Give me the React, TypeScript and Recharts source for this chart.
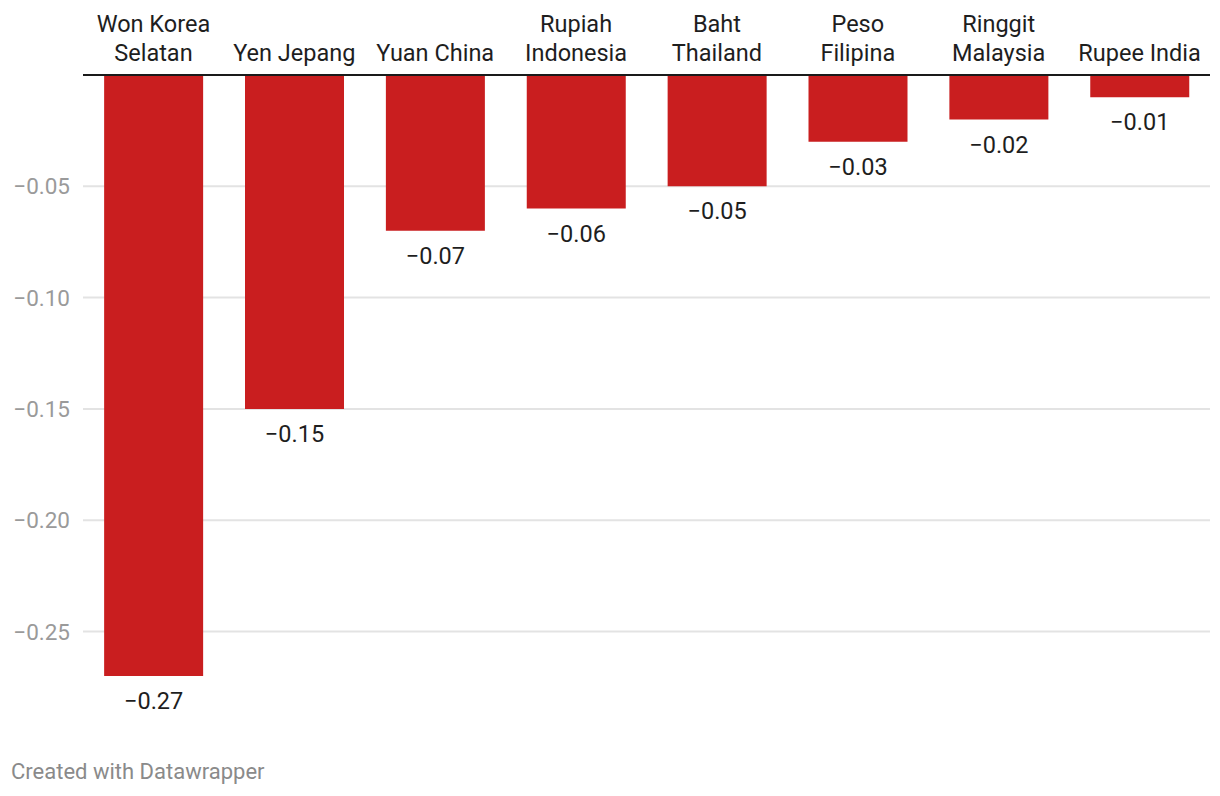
import React from 'react';
import { BarChart, Bar, XAxis, YAxis, CartesianGrid, ReferenceLine, LabelList } from 'recharts';

const categories = ['Won Korea\nSelatan', 'Yen Jepang', 'Yuan China', 'Rupiah\nIndonesia', 'Baht\nThailand', 'Peso\nFilipina', 'Ringgit\nMalaysia', 'Rupee India'];
const values = [-0.27, -0.15, -0.07, -0.06, -0.05, -0.03, -0.02, -0.01];
const yTicks = [-0.25, -0.2, -0.15, -0.1, -0.05, 0];
const gridValues = [-0.25, -0.2, -0.15, -0.1, -0.05];

const data = categories.map((c, i) => ({ name: c, value: values[i] }));

const FONT = 'Roboto, "Noto Sans", sans-serif';
const fmt = (v: number) => (v < 0 ? '\u2212' : '') + Math.abs(v).toFixed(2);

const XTick = (props: any) => {
  const { x, y, payload } = props;
  const lines = String(payload.value).split('\n');
  const n = lines.length;
  return (
    <g>
      {lines.map((l: string, i: number) => (
        <text key={i} x={x} y={y - 14.5 - (n - 1 - i) * 28.7} textAnchor="middle" fill="#1e1e1e" fontSize={23.5} fontFamily={FONT}>
          {l}
        </text>
      ))}
    </g>
  );
};

const YTick = (props: any) => {
  const { x, y, payload } = props;
  if (payload.value === 0) return null;
  return (
    <text x={x} y={y} dy="0.36em" textAnchor="end" fill="#9a9a9a" fontSize={22.5} fontFamily={FONT}>
      {fmt(payload.value)}
    </text>
  );
};

const ValueLabel = (props: any) => {
  const { x, y, width, height, value } = props;
  const bottom = Math.max(y, y + height);
  return (
    <text x={x + width / 2} y={bottom + 33} textAnchor="middle" fill="#1e1e1e" fontSize={23.5} fontFamily={FONT}>
      {fmt(value)}
    </text>
  );
};

export default function App() {
  return (
    <div style={{ position: 'absolute', left: 0, top: 0, width: 1220, height: 796, background: '#fff' }}>
      <BarChart width={1220} height={796} data={data} margin={{ top: 0, right: 10, bottom: 120, left: 0 }} barCategoryGap="15%">
        <CartesianGrid vertical={false} stroke="#e3e3e3" strokeWidth={2} horizontalValues={gridValues} />
        <XAxis dataKey="name" orientation="top" height={75} axisLine={false} tickLine={false} tickSize={0} tickMargin={0} interval={0} tick={<XTick />} />
        <YAxis type="number" domain={[-0.27, 0]} ticks={yTicks} width={83} axisLine={false} tickLine={false} tickSize={0} tickMargin={13} tick={<YTick />} />
        <Bar dataKey="value" fill="#c91e1f" isAnimationActive={false}>
          <LabelList dataKey="value" content={<ValueLabel />} />
        </Bar>
        <ReferenceLine y={0} stroke="#1a1a1a" strokeWidth={2} />
      </BarChart>
      <div style={{ position: 'absolute', left: 11, top: 759, fontFamily: FONT, fontSize: 22, color: '#8a8a8a', lineHeight: '26px' }}>
        Created with Datawrapper
      </div>
    </div>
  );
}
